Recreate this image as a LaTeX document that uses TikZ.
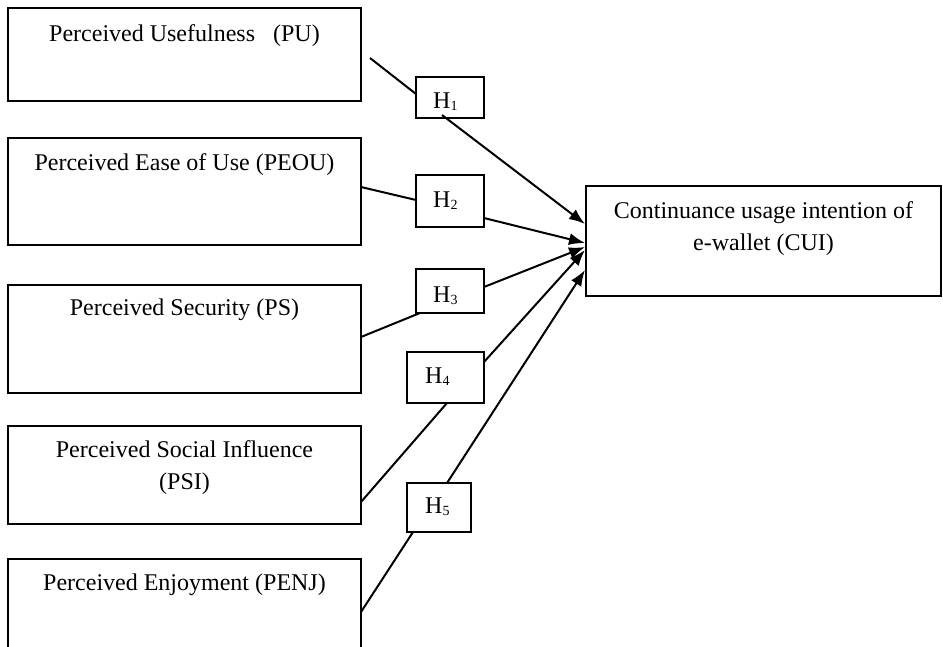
\documentclass[tikz,border=0pt]{standalone}
\usepackage{fontspec}
\setmainfont{Liberation Serif}
\usetikzlibrary{arrows.meta}
\newcommand{\hsub}[1]{\raisebox{-2.5pt}{\fontsize{14}{14}\selectfont #1}}
\begin{document}
\begin{tikzpicture}[x=1pt,y=-1pt,
  box/.style={draw,line width=1.8pt,inner sep=0pt,outer sep=0pt},
  txt/.style={inner sep=0pt,anchor=base,font=\fontsize{24}{32}\selectfont},
  hl/.style={inner sep=0pt,anchor=base west,font=\fontsize{24}{32}\selectfont},
  con/.style={line width=2pt},
  arr/.style={line width=2pt,-{Latex[length=16pt,width=12pt]}}]
\useasboundingbox (0,0) rectangle (943,646);
\clip (0,0) rectangle (943,646);
% construct boxes
\node[box,minimum width=353pt,minimum height=93pt] (pu) at (184.5,54.5) {};
\node[box,minimum width=353pt,minimum height=107pt] (peou) at (184.5,191.5) {};
\node[box,minimum width=353pt,minimum height=108pt] (ps) at (184.5,339) {};
\node[box,minimum width=353pt,minimum height=98pt] (psi) at (184.5,475) {};
\node[box,minimum width=353pt,minimum height=110pt] (penj) at (184.5,614) {};
\node[box,minimum width=355pt,minimum height=110pt] (cui) at (763.5,241) {};
% texts
\node[txt] (tpu) at ([yshift=-33pt]pu.north) {Perceived Usefulness\ \ \ (PU)};
\node[txt] (tpeou) at ([yshift=-32pt]peou.north) {Perceived Ease of Use (PEOU)};
\node[txt] (tps) at ([yshift=-30pt]ps.north) {Perceived Security (PS)};
\node[txt] (tpsi1) at ([yshift=-31pt]psi.north) {Perceived Social Influence};
\node[txt] (tpsi2) at ([yshift=-63pt]psi.north) {(PSI)};
\node[txt] (tpenj) at ([yshift=-31pt]penj.north) {Perceived Enjoyment (PENJ)};
\node[txt] (tcui1) at ([yshift=-32pt]cui.north) {Continuance usage intention of};
\node[txt] (tcui2) at ([yshift=-64pt]cui.north) {e-wallet (CUI)};
% hypothesis boxes
\node[box,minimum width=68pt,minimum height=41pt] (h1) at (450,97.5) {};
\node[box,minimum width=68pt,minimum height=52pt] (h2) at (450,201) {};
\node[box,minimum width=68pt,minimum height=44pt] (h3) at (450,291) {};
\node[box,minimum width=77pt,minimum height=51pt] (h4) at (445.5,377.5) {};
\node[box,minimum width=64pt,minimum height=49pt] (h5) at (439,507.5) {};
\node[hl] (th1) at (433,108) {H\hsub{1}};
\node[hl] (th2) at (433,207) {H\hsub{2}};
\node[hl] (th3) at (433,302) {H\hsub{3}};
\node[hl] (th4) at (425,383) {H\hsub{4}};
\node[hl] (th5) at (425,513) {H\hsub{5}};
% connector end points
\coordinate (s1) at (370,58);
\coordinate (a1) at (416,94);
\coordinate (b1) at (442,115);
\coordinate (t1) at (585,224);
\coordinate (s2) at (361,187);
\coordinate (a2) at (416,200);
\coordinate (b2) at (484,218);
\coordinate (t2) at (585,243);
\coordinate (s3) at (361,337);
\coordinate (a3) at (420,313);
\coordinate (b3) at (484,287);
\coordinate (t3) at (585,247);
\coordinate (s4) at (361,502);
\coordinate (a4) at (447,403);
\coordinate (b4) at (484,362);
\coordinate (t4) at (585,250);
\coordinate (s5) at (361,612);
\coordinate (a5) at (413,532);
\coordinate (b5) at (447,483);
\coordinate (t5) at (585,270);
% connectors
\draw[con] (s1) -- (a1);
\draw[arr] (b1) -- (t1);
\draw[con] (s2) -- (a2);
\draw[arr] (b2) -- (t2);
\draw[con] (s3) -- (a3);
\draw[arr] (b3) -- (t3);
\draw[con] (s4) -- (a4);
\draw[arr] (b4) -- (t4);
\draw[con] (s5) -- (a5);
\draw[arr] (b5) -- (t5);
\end{tikzpicture}
\end{document}
